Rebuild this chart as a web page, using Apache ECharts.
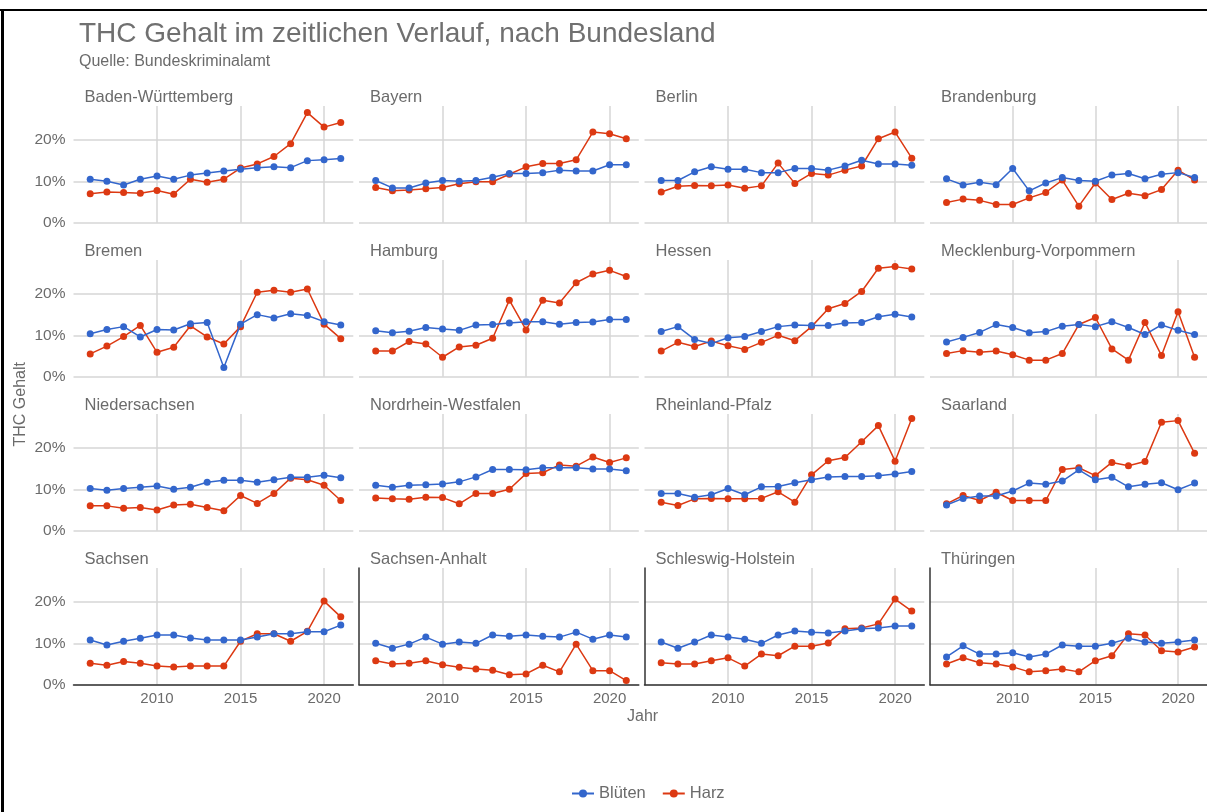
<!DOCTYPE html>
<html>
<head>
	<meta charset="utf-8">
	<title>THC Gehalt</title>
	<script src="https://cdn.jsdelivr.net/npm/echarts@6/dist/echarts.min.js"></script>
	<style>
		html,body{margin:0;padding:0;background:#fff;}
		#main{width:1207px;height:812px;}
	</style>
</head>
<body>
<div id="main"></div>
<script type="text/javascript">
	var years = [2006,2007,2008,2009,2010,2011,2012,2013,2014,2015,2016,2017,2018,2019,2020,2021];
	var states = ['Baden-Württemberg','Bayern','Berlin','Brandenburg',
		'Bremen','Hamburg','Hessen','Mecklenburg-Vorpommern',
		'Niedersachsen','Nordrhein-Westfalen','Rheinland-Pfalz','Saarland',
		'Sachsen','Sachsen-Anhalt','Schleswig-Holstein','Thüringen'];

	// Blüten, in %
	var bluetenValues = [
		[10.5,10.0,9.1,10.5,11.3,10.5,11.5,12.0,12.5,12.9,13.3,13.5,13.3,15.0,15.2,15.5],
		[10.2,8.4,8.4,9.6,10.2,10.0,10.2,11.0,11.9,11.9,12.1,12.7,12.5,12.5,14.0,14.0],
		[10.2,10.2,12.3,13.5,12.9,12.9,12.1,12.1,13.1,13.1,12.7,13.7,15.1,14.2,14.2,13.9],
		[10.6,9.1,9.8,9.2,13.1,7.7,9.6,10.9,10.2,10.0,11.5,11.9,10.6,11.7,12.1,10.9],
		[10.4,11.4,12.1,9.6,11.4,11.3,12.8,13.1,2.2,12.7,15.0,14.2,15.2,14.8,13.3,12.5],
		[11.1,10.6,11.0,11.9,11.5,11.2,12.5,12.6,13.0,13.3,13.3,12.7,13.1,13.2,13.8,13.8],
		[10.9,12.1,9.0,8.0,9.4,9.7,10.9,12.1,12.5,12.4,12.4,13.0,13.1,14.5,15.1,14.4],
		[8.4,9.5,10.7,12.6,11.9,10.6,10.9,12.2,12.6,12.1,13.3,11.9,10.2,12.5,11.2,10.2],
		[10.2,9.8,10.2,10.5,10.8,10.0,10.5,11.7,12.2,12.2,11.7,12.3,12.9,12.9,13.4,12.8],
		[11.0,10.5,11.0,11.1,11.3,11.8,13.0,14.8,14.8,14.7,15.2,15.2,15.2,14.9,14.9,14.5],
		[9.0,9.0,8.1,8.7,10.2,8.7,10.6,10.7,11.6,12.3,13.0,13.1,13.1,13.3,13.7,14.3],
		[6.2,7.8,8.4,8.4,9.6,11.5,11.2,12.0,14.7,12.3,12.9,10.6,11.2,11.6,9.9,11.5],
		[10.8,9.6,10.5,11.2,12.0,12.0,11.3,10.8,10.8,10.8,11.5,12.3,12.3,12.8,12.8,14.4],
		[10.0,8.8,9.8,11.5,9.8,10.3,10.0,12.0,11.7,12.0,11.7,11.5,12.7,11.0,12.0,11.5],
		[10.3,8.8,10.3,12.0,11.5,11.0,10.0,12.0,13.0,12.7,12.5,13.0,13.5,13.7,14.2,14.2],
		[6.7,9.4,7.4,7.4,7.7,6.7,7.4,9.6,9.3,9.3,10.0,11.2,10.3,10.0,10.3,10.8]
	];

	// Harz, in %
	var harzValues = [
		[7.0,7.4,7.3,7.1,7.8,6.9,10.5,9.8,10.5,13.2,14.2,16.0,19.1,26.6,23.1,24.2],
		[8.5,7.7,7.9,8.2,8.5,9.4,9.9,9.9,11.7,13.5,14.3,14.3,15.2,21.9,21.5,20.3],
		[7.4,8.8,9.0,8.9,9.1,8.3,8.9,14.4,9.5,11.9,11.5,12.7,13.7,20.3,21.9,15.6],
		[4.9,5.7,5.4,4.4,4.4,6.0,7.3,10.3,4.0,9.6,5.6,7.1,6.5,8.0,12.7,10.3],
		[5.5,7.4,9.7,12.4,5.9,7.1,12.3,9.6,7.9,12.1,20.4,20.9,20.4,21.2,12.7,9.2],
		[6.2,6.2,8.5,7.9,4.7,7.2,7.6,9.3,18.5,11.3,18.5,17.8,22.7,24.8,25.7,24.2],
		[6.2,8.3,7.3,8.6,7.5,6.6,8.3,10.0,8.7,12.1,16.4,17.7,20.6,26.2,26.6,26.0],
		[5.6,6.3,5.9,6.2,5.3,4.0,4.0,5.6,12.6,14.3,6.7,4.0,13.1,5.1,15.7,4.7],
		[6.0,6.0,5.4,5.6,5.0,6.2,6.4,5.6,4.8,8.5,6.6,9.0,12.7,12.3,11.0,7.3],
		[7.9,7.7,7.6,8.1,8.0,6.5,9.0,9.0,10.0,13.8,14.0,15.9,15.6,17.8,16.5,17.6],
		[6.9,6.1,7.7,7.8,7.7,7.7,7.8,9.4,6.9,13.5,16.9,17.7,21.5,25.4,16.8,27.1],
		[6.5,8.5,7.3,9.3,7.3,7.3,7.3,14.8,15.2,13.3,16.5,15.7,16.7,26.2,26.6,18.7],
		[5.2,4.7,5.6,5.2,4.5,4.3,4.5,4.5,4.5,10.5,12.3,12.3,10.5,12.9,20.2,16.4],
		[5.8,5.0,5.2,5.8,4.8,4.2,3.8,3.5,2.4,2.6,4.7,3.1,9.8,3.4,3.4,1.0],
		[5.3,5.0,5.0,5.8,6.5,4.5,7.4,7.0,9.3,9.3,10.1,13.5,13.7,14.7,20.7,17.8],
		[5.0,6.5,5.3,5.0,4.3,3.1,3.4,3.8,3.1,5.8,7.0,12.3,12.0,8.2,7.9,9.1]
	];

	var blue = '#3366cc';
	var red = '#dc3912';
	var txt = '#6b6b6b';
	var gridCol = '#d6d6d6';
	var fontFam = "'Liberation Sans', Arial, sans-serif";

	function pairs(vals){
		var out = [];
		for(var i=0;i<years.length;i++){
			out.push([years[i], vals[i]]);
		}
		return out;
	}

	function buildChart(){
		var grids = [], xAxes = [], yAxes = [], series = [], titles = [];

		titles.push({
			text: 'THC Gehalt im zeitlichen Verlauf, nach Bundesland',
			subtext: 'Quelle: Bundeskriminalamt',
			left: 74, top: 15, itemGap: 6,
			textStyle: {fontFamily: fontFam, fontSize: 28, fontWeight: 'normal', color: '#707070'},
			subtextStyle: {fontFamily: fontFam, fontSize: 16, color: '#6b6b6b'}
		});

		for(var k=0;k<states.length;k++){
			var r = Math.floor(k/4), c = k%4;
			// x from 2005 (multiple of 5), ~16.7px per year
			var gLeft = 73.5 + 285.5*c;
			var gTop = 106 + 154*r;
			var bottomRow = (r == 3);
			grids.push({left: gLeft, top: gTop, width: 279.8, height: 116.7});
			titles.push({
				text: states[k],
				left: gLeft + 6, top: gTop - 22,
				textStyle: {fontFamily: fontFam, fontSize: 16.5, fontWeight: 'normal', color: txt}
			});
			xAxes.push({
				type: 'value', gridIndex: k, min: 2005, max: 2021.75, interval: 5,
				axisLine: {show: bottomRow, onZero: false, lineStyle: {color: '#333', width: 1.5}},
				axisTick: {show: false},
				axisLabel: {
					show: bottomRow, color: txt, fontSize: 15, fontFamily: fontFam, margin: 7,
					showMinLabel: false, showMaxLabel: false,
					formatter: function(v){ return (v % 5 == 0 && v > 2005) ? String(v) : ''; }
				},
				splitLine: {show: true, lineStyle: {color: ['rgba(0,0,0,0)', gridCol, gridCol, gridCol, 'rgba(0,0,0,0)'], width: 1.5}}
			});
			yAxes.push({
				type: 'value', gridIndex: k, min: 0, max: 28.2, interval: 10,
				axisLine: {show: bottomRow && c > 0, onZero: false, lineStyle: {color: '#333', width: 1.5}},
				axisTick: {show: false},
				axisLabel: {
					show: c == 0, color: txt, fontSize: 15.5, fontFamily: fontFam, margin: 8,
					showMaxLabel: false,
					formatter: function(v){ return (v % 10 == 0) ? v + '%' : ''; }
				},
				splitLine: {show: true, lineStyle: {color: [gridCol, gridCol, gridCol, 'rgba(0,0,0,0)'], width: 1.5}}
			});
			series.push({
				name: 'Blüten', type: 'line', xAxisIndex: k, yAxisIndex: k,
				data: pairs(bluetenValues[k]),
				symbol: 'circle', symbolSize: 7,
				itemStyle: {color: blue}, lineStyle: {width: 1.5, color: blue}, z: 3
			});
			series.push({
				name: 'Harz', type: 'line', xAxisIndex: k, yAxisIndex: k,
				data: pairs(harzValues[k]),
				symbol: 'circle', symbolSize: 7,
				itemStyle: {color: red}, lineStyle: {width: 1.5, color: red}, z: 2
			});
		}

		var myChart = echarts.init(document.getElementById('main'));
		myChart.setOption({
			backgroundColor: '#fff',
			animation: false,
			title: titles,
			grid: grids,
			xAxis: xAxes,
			yAxis: yAxes,
			series: series,
			legend: {
				data: ['Blüten','Harz'],
				top: 780, left: 566,
				itemWidth: 22, itemHeight: 10, itemGap: 16,
				textStyle: {fontFamily: fontFam, fontSize: 16.5, color: txt}
			},
			graphic: [
				{type: 'text', left: 627, top: 709, style: {text: 'Jahr', font: '16px ' + fontFam, fill: txt}},
				{type: 'text', left: 13, top: 362, rotation: Math.PI/2, style: {text: 'THC Gehalt', font: '16px ' + fontFam, fill: txt}},
				{type: 'rect', shape: {x: 0, y: 9, width: 1207, height: 2}, style: {fill: '#000'}},
				{type: 'rect', shape: {x: 1, y: 9, width: 3, height: 803}, style: {fill: '#000'}}
			]
		});
	}

	buildChart();
</script>
</body>
</html>
